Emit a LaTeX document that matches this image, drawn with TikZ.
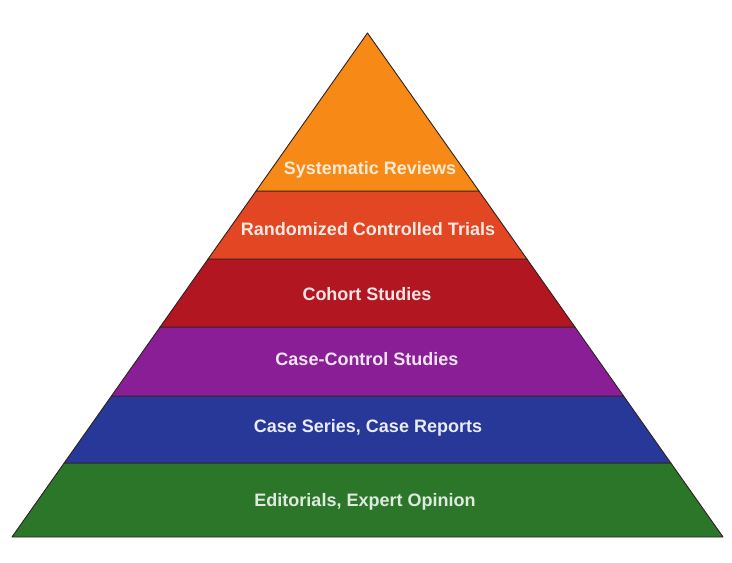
\documentclass[tikz,border=0pt]{standalone}
\usepackage{fontspec}
\setmainfont{Liberation Sans}
\definecolor{cSR}{RGB}{247,138,22}
\definecolor{cRCT}{RGB}{226,70,34}
\definecolor{cCO}{RGB}{178,22,32}
\definecolor{cCC}{RGB}{138,30,150}
\definecolor{cCS}{RGB}{40,56,152}
\definecolor{cED}{RGB}{44,118,42}
\definecolor{edge}{RGB}{60,40,40}
\tikzset{
  band/.style={draw=edge!80!black, line width=0.9bp, line join=round},
  lbl/.style={font=\bfseries\fontsize{18bp}{20bp}\selectfont, inner sep=0pt, anchor=center}
}
\begin{document}
\begin{tikzpicture}[x=1bp,y=-1bp]
\useasboundingbox (0,0) rectangle (732,563);
\fill[white] (0,0) rectangle (732,563);
\filldraw[band, fill=cED] (11.98,537) -- (64.18,463) -- (670.82,463) -- (723.02,537) -- cycle;
\filldraw[band, fill=cCS] (64.18,463) -- (111.44,396) -- (623.56,396) -- (670.82,463) -- cycle;
\filldraw[band, fill=cCC] (111.44,396) -- (160.11,327) -- (574.89,327) -- (623.56,396) -- cycle;
\filldraw[band, fill=cCO] (160.11,327) -- (208.08,259) -- (526.92,259) -- (574.89,327) -- cycle;
\filldraw[band, fill=cRCT] (208.08,259) -- (256.05,191) -- (478.95,191) -- (526.92,259) -- cycle;
\filldraw[band, fill=cSR] (256.05,191) -- (367.5,33) -- (478.95,191) -- cycle;
\node[lbl, text=cSR!18!white] (sr) at (370,170) {Systematic Reviews};
\node[lbl, text=cRCT!12!white] (rct) at (368,229) {Randomized Controlled Trials};
\node[lbl, text=cCO!12!white] (co) at (367,294) {Cohort Studies};
\node[lbl, text=cCC!12!white] (cc) at (367,359) {Case-Control Studies};
\node[lbl, text=cCS!10!white] (cs) at (368,428) {Case Series, Case Reports};
\node[lbl, text=cED!15!white] (ed) at (365,502) {Editorials, Expert Opinion};
\end{tikzpicture}
\end{document}
